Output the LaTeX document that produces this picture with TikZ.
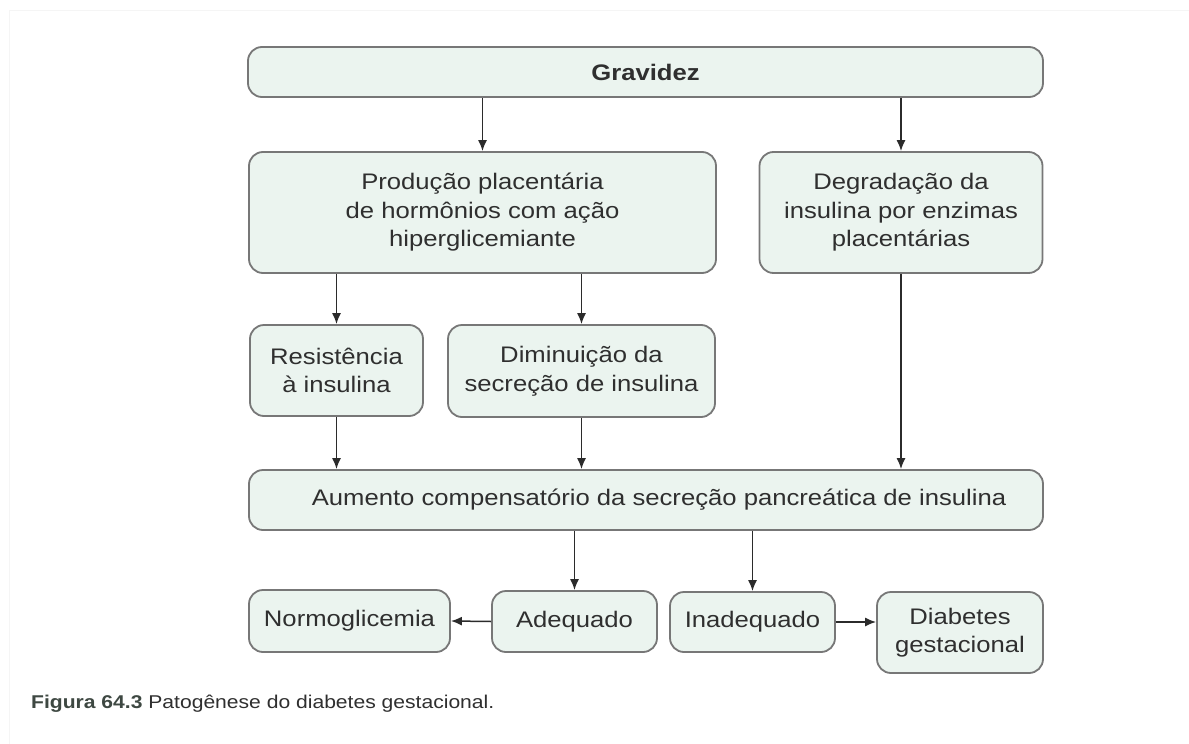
\documentclass[tikz,border=0pt]{standalone}
\usepackage{fontspec}
\setmainfont{Liberation Sans}[FakeStretch=1.14]
\usetikzlibrary{arrows.meta}
\definecolor{boxfill}{HTML}{EBF4EF}
\definecolor{boxdraw}{HTML}{777777}
\definecolor{txt}{HTML}{2F2F2F}
\definecolor{captxt}{HTML}{3E4842}
\definecolor{arr}{HTML}{2B2B2B}
\definecolor{frame}{HTML}{F5F5F5}
\begin{document}
\begin{tikzpicture}[x=1pt,y=-1pt,
  box/.style={draw=boxdraw, line width=1.8pt, fill=boxfill, rounded corners=14pt,
    text=txt, align=center, inner sep=0pt, font=\fontsize{22.5}{28.5}\selectfont},
  conn/.style={draw=arr, line width=1.5pt, -{Latex[length=11pt,width=9pt]}}]
\useasboundingbox (0,0) rectangle (1189,744);
\fill[white] (0,0) rectangle (1189,744);
\draw[frame, line width=1pt] (9,744) -- (9,10) -- (1189,10);

\node[box, minimum width=795pt, minimum height=50pt] (grav) at (645.5,72) {\bfseries Gravidez};
\node[box, minimum width=467pt, minimum height=121pt] (prod) at (482.5,212.5)
  {Produção placentária\\de hormônios com ação\\hiperglicemiante};
\node[box, minimum width=283pt, minimum height=121pt] (degr) at (901,212.5)
  {Degradação da\\insulina por enzimas\\placentárias};
\node[box, minimum width=173pt, minimum height=91pt] (res) at (336.5,370.5)
  {Resistência\\à insulina};
\node[box, minimum width=267pt, minimum height=92pt] (dim) at (581.5,371)
  {Diminuição da\\secreção de insulina};
\node[box, minimum width=794pt, minimum height=60pt] (aum) at (646,500)
  {\hspace*{26pt}Aumento compensatório da secreção pancreática de insulina};
\node[box, minimum width=201pt, minimum height=62pt] (normo) at (349.5,621)
  {Normoglicemia};
\node[box, minimum width=165pt, minimum height=61pt] (adeq) at (574.5,621.5)
  {Adequado};
\node[box, minimum width=165pt, minimum height=60pt] (inad) at (752.5,622)
  {Inadequado};
\node[box, minimum width=166pt, minimum height=81pt] (diab) at (960,632.5)
  {Diabetes\\gestacional};

\node[anchor=base west, text=txt, inner sep=0pt, font=\fontsize{18.5}{22}\selectfont] (cap) at (31,708)
  {\textcolor{captxt}{\bfseries Figura 64.3} Patogênese do diabetes gestacional.};

\draw[conn] (prod.north |- grav.south) -- (prod.north);
\draw[conn] (degr.north |- grav.south) -- (degr.north);
\draw[conn] (res.north |- prod.south) -- (res.north);
\draw[conn] (dim.north |- prod.south) -- (dim.north);
\draw[conn] (res.south) -- (res.south |- aum.north);
\draw[conn] (dim.south) -- (dim.south |- aum.north);
\draw[conn] (degr.south) -- (degr.south |- aum.north);
\draw[conn] (adeq.north |- aum.south) -- (adeq.north);
\draw[conn] (inad.north |- aum.south) -- (inad.north);
\draw[conn] (adeq.west) -- (normo.east);
\draw[conn] (inad.east) -- (inad.east -| diab.west);
\end{tikzpicture}
\end{document}
